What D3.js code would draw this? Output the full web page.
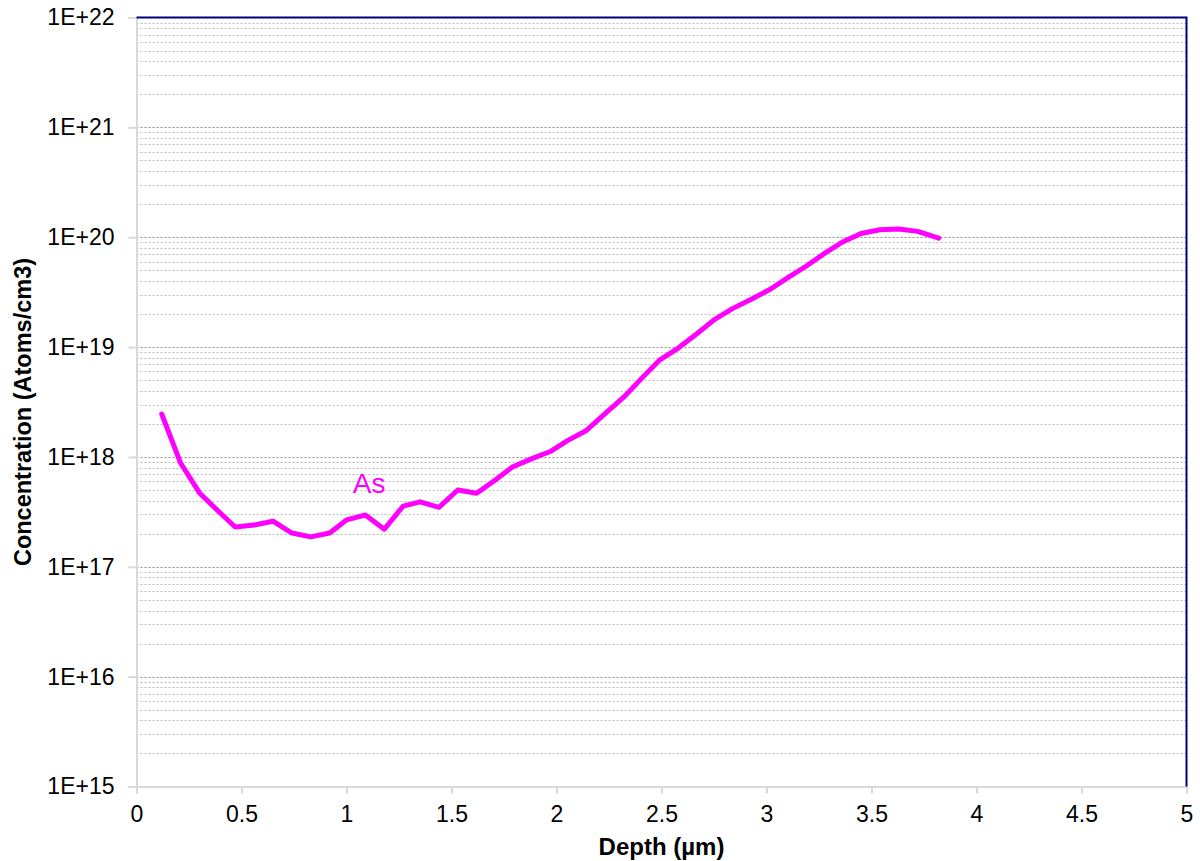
<!DOCTYPE html>
<html>
<head>
<meta charset="utf-8">
<script src="https://cdn.jsdelivr.net/npm/d3@7"></script>
<style>
  body { margin: 0; background: #fff; }
  svg { display: block; font-family: Arial, "Liberation Sans", sans-serif; }
</style>
</head>
<body>
<script>
var width = 1200,
  height = 861;

var margin = { top: 17.5, right: 13.5, bottom: 74.5, left: 136.5 };

// Depth (um) and As concentration (atoms/cm3)
var depth = [0.12, 0.21, 0.30, 0.39, 0.47, 0.56, 0.65, 0.74, 0.83, 0.92,
  1.00, 1.09, 1.18, 1.27, 1.35, 1.44, 1.53, 1.62, 1.71, 1.79,
  1.88, 1.97, 2.05, 2.14, 2.23, 2.32, 2.41, 2.49, 2.58, 2.67,
  2.75, 2.84, 2.93, 3.02, 3.10, 3.19, 3.28, 3.36, 3.45, 3.54,
  3.63, 3.72, 3.82];
var arsenic = [2.46e18, 8.8e17, 4.7e17, 3.2e17, 2.3e17, 2.4e17, 2.6e17, 2.03e17, 1.87e17, 2.03e17,
  2.67e17, 2.96e17, 2.2e17, 3.57e17, 3.9e17, 3.48e17, 5.0e17, 4.67e17, 6.2e17, 8.1e17,
  9.6e17, 1.12e18, 1.4e18, 1.73e18, 2.46e18, 3.5e18, 5.3e18, 7.6e18, 9.8e18, 1.33e19,
  1.77e19, 2.25e19, 2.74e19, 3.38e19, 4.26e19, 5.47e19, 7.2e19, 9.0e19, 1.08e20, 1.17e20,
  1.19e20, 1.13e20, 9.8e19];

var xTicks = [0, 0.5, 1, 1.5, 2, 2.5, 3, 3.5, 4, 4.5, 5];
var yTicks = [1e15, 1e16, 1e17, 1e18, 1e19, 1e20, 1e21, 1e22];
var seriesLabel = "As";

var x = d3.scaleLinear()
  .domain([0, 5])
  .range([margin.left, width - margin.right]);

var y = d3.scaleLog()
  .domain([1e15, 1e22])
  .range([height - margin.bottom, margin.top]);

var svg = d3.select("body")
  .append("svg")
  .attr("width", width)
  .attr("height", height);

// minor + major gridlines (2..9 in every decade)
var gridValues = [];
yTicks.forEach(function (d, i) {
  if (i < yTicks.length - 1) {
    for (var k = 2; k <= 9; k++) gridValues.push(d * k);
  }
});

svg.append("g")
  .selectAll("line")
  .data(gridValues)
  .enter()
  .append("line")
  .attr("x1", x(0))
  .attr("x2", x(5))
  .attr("y1", function (d) { return Math.round(y(d)) + 0.5; })
  .attr("y2", function (d) { return Math.round(y(d)) + 0.5; })
  .attr("stroke", "#bababa")
  .attr("stroke-width", 1)
  .attr("stroke-dasharray", "2,2");

svg.append("g")
  .selectAll("line")
  .data(yTicks.slice(1, -1))
  .enter()
  .append("line")
  .attr("x1", x(0))
  .attr("x2", x(5))
  .attr("y1", function (d) { return Math.round(y(d)) + 0.5; })
  .attr("y2", function (d) { return Math.round(y(d)) + 0.5; })
  .attr("stroke", "#8c8c8c")
  .attr("stroke-width", 1)
  .attr("stroke-dasharray", "2,2");

// axes
var yAxis = d3.axisLeft(y)
  .tickValues(yTicks)
  .tickSize(8)
  .tickPadding(14)
  .tickFormat(function (d) { return "1E+" + Math.round(Math.log10(d)); });

var xAxis = d3.axisBottom(x)
  .tickValues(xTicks)
  .tickSize(7)
  .tickPadding(12)
  .tickFormat(d3.format("~g"));

var gy = svg.append("g")
  .attr("transform", "translate(" + x(0) + ",0)")
  .call(yAxis);

var gx = svg.append("g")
  .attr("transform", "translate(0," + y(1e15) + ")")
  .call(xAxis);

[gx, gy].forEach(function (g) {
  g.select(".domain").attr("stroke", "#d9d9d9").attr("stroke-width", 2);
  g.selectAll(".tick line").attr("stroke", "#d9d9d9").attr("stroke-width", 2);
  g.selectAll(".tick text")
    .attr("fill", "#000")
    .style("font-size", "23px")
    .style("font-family", "Arial, 'Liberation Sans', sans-serif");
});

// top and right frame
svg.append("path")
  .attr("d", "M" + x(0) + "," + y(1e22) + "H" + x(5) + "V" + y(1e15))
  .attr("fill", "none")
  .attr("stroke", "#000080")
  .attr("stroke-width", 2);

// profile
var line = d3.line()
  .x(function (d, i) { return x(depth[i]); })
  .y(function (d) { return y(d); });

svg.append("path")
  .datum(arsenic)
  .attr("d", line)
  .attr("fill", "none")
  .attr("stroke", "#ff00ff")
  .attr("stroke-width", 5)
  .attr("stroke-linejoin", "round")
  .attr("stroke-linecap", "round");

svg.append("text")
  .attr("x", x(1.03))
  .attr("y", y(4.7e17))
  .attr("fill", "#ff00ff")
  .style("font-size", "28px")
  .text(seriesLabel);

// axis titles
svg.append("text")
  .attr("x", (x(0) + x(5)) / 2)
  .attr("y", 855)
  .attr("text-anchor", "middle")
  .style("font-size", "24px")
  .style("font-weight", "bold")
  .text("Depth (µm)");

svg.append("text")
  .attr("transform", "translate(31," + 412 + ")rotate(-90)")
  .attr("text-anchor", "middle")
  .style("font-size", "23.5px")
  .style("font-weight", "bold")
  .text("Concentration (Atoms/cm3)");
</script>
</body>
</html>
